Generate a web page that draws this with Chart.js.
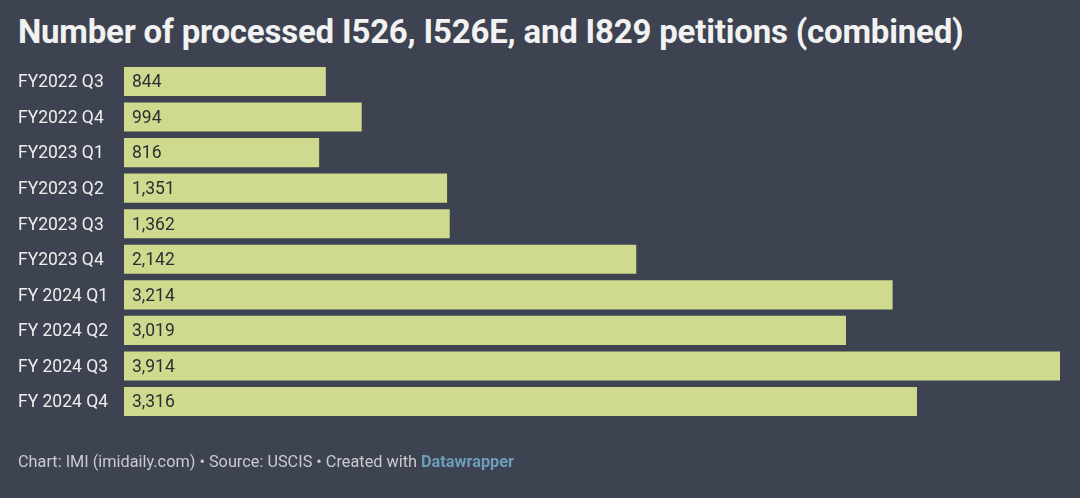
<!DOCTYPE html>
<html>
<head>
<meta charset="utf-8">
<script src="https://cdn.jsdelivr.net/npm/chart.js@4"></script>
<style>
  html, body { margin: 0; padding: 0; background: #3d4350; width: 1080px; height: 498px; overflow: hidden; }
  #wrap { position: absolute; left: 0; top: 0; width: 1080px; height: 498px; }
  #title { position: absolute; left: 18px; top: 12px; font-family: Roboto, sans-serif; font-weight: 700; font-size: 33px; color: #f2f2f2; white-space: nowrap; letter-spacing: -0.2px; }
  #foot { position: absolute; left: 18px; top: 452px; font-family: Roboto, sans-serif; font-size: 16.3px; color: #c9cbcf; white-space: nowrap; }
  #foot b { color: #6e9cbb; font-weight: 700; }
  canvas { position: absolute; left: 0; top: 0; }
</style>
</head>
<body>
<div id="wrap">
  <div id="title">Number of processed I526, I526E, and I829 petitions (combined)</div>
  <canvas id="c" width="1080" height="498"></canvas>
  <div id="foot">Chart: IMI (imidaily.com) • Source: USCIS • Created with <b>Datawrapper</b></div>
</div>
<script>
const categories = ["FY2022 Q3","FY2022 Q4","FY2023 Q1","FY2023 Q2","FY2023 Q3","FY2023 Q4","FY 2024 Q1","FY 2024 Q2","FY 2024 Q3","FY 2024 Q4"];
const petitions = [844, 994, 816, 1351, 1362, 2142, 3214, 3019, 3914, 3316];

const valueLabels = {
  id: 'valueLabels',
  afterDatasetsDraw(chart) {
    const ctx = chart.ctx;
    const meta = chart.getDatasetMeta(0);
    ctx.save();
    ctx.font = '17.5px Roboto, sans-serif';
    ctx.fillStyle = '#2b2f33';
    ctx.textBaseline = 'middle';
    ctx.textAlign = 'left';
    meta.data.forEach((bar, i) => {
      ctx.fillText(petitions[i].toLocaleString('en-US'), bar.base + 8, bar.y + 1.5);
    });
    ctx.restore();
  }
};

new Chart(document.getElementById('c'), {
  type: 'bar',
  data: {
    labels: categories,
    datasets: [{
      data: petitions,
      backgroundColor: '#d0da8f',
      borderWidth: 0,
      barPercentage: 0.82,
      categoryPercentage: 1.0
    }]
  },
  options: {
    indexAxis: 'y',
    responsive: false,
    animation: false,
    devicePixelRatio: 1,
    layout: { padding: { left: 18, right: 20, top: 63.7, bottom: 78.7 } },
    plugins: { legend: { display: false }, tooltip: { enabled: false } },
    scales: {
      x: { display: false, min: 0, max: 3914 },
      y: {
        grid: { display: false, drawTicks: false },
        border: { display: false },
        ticks: {
          crossAlign: 'far',
          padding: 0,
          labelOffset: 1.5,
          color: '#eeeeee',
          font: { family: 'Roboto, sans-serif', size: 17.5 }
        },
        afterFit(scale) { scale.width = 106; }
      }
    }
  },
  plugins: [valueLabels]
});
</script>
</body>
</html>
